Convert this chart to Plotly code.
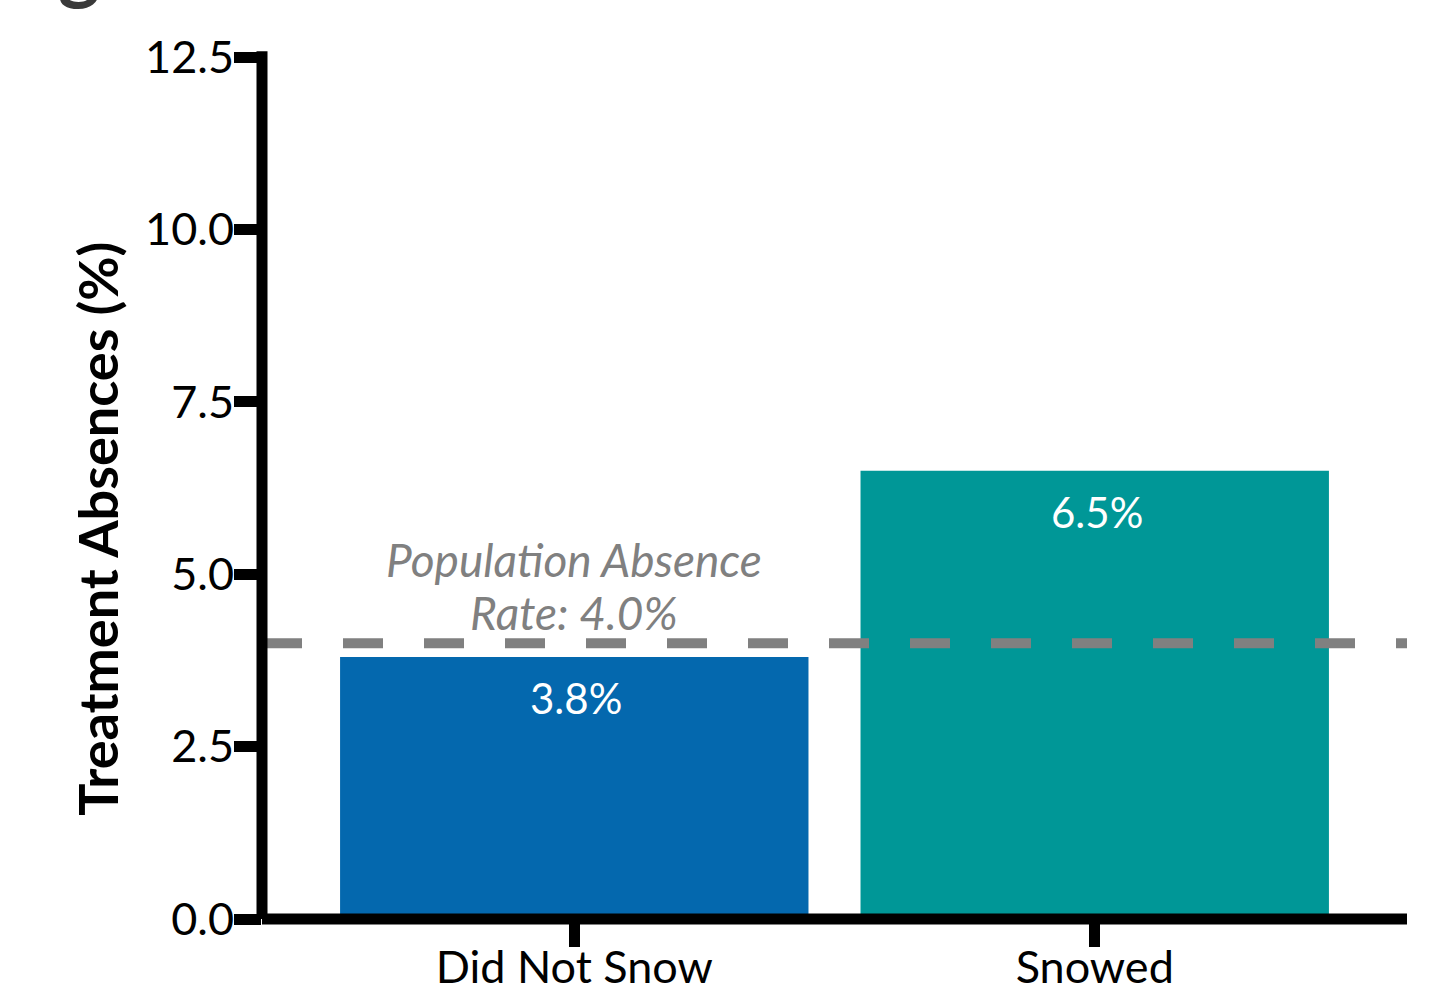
import plotly.graph_objects as go

# Treatment absences by weather condition
categories = ["Did Not Snow", "Snowed"]
absence_pct = [3.8, 6.5]
bar_colors = ["#0468AE", "#009797"]
population_rate = 4.0
y_ticks = [0.0, 2.5, 5.0, 7.5, 10.0, 12.5]
y_tick_labels = [f"{v:.1f}" for v in y_ticks]

FONT = "Lato"
AXIS_W = 11

fig = go.Figure()
fig.add_trace(go.Bar(
    x=categories,
    y=absence_pct,
    marker=dict(color=bar_colors, line=dict(width=0)),
    width=0.9,
    hoverinfo="skip",
))

# value labels just inside the top of each bar
for cat, val in zip(categories, absence_pct):
    fig.add_annotation(
        x=cat, y=val, xref="x", yref="y",
        text=f"{val:.1f}%", showarrow=False,
        yanchor="top", yshift=-14, xshift=2,
        font=dict(family=FONT, size=42, color="white"),
    )

# population reference line and its two-line label
fig.add_shape(
    type="line", xref="paper", yref="y",
    x0=0, x1=1, y0=population_rate, y1=population_rate,
    line=dict(color="#808080", width=10, dash="40px,41px"),
    layer="above",
)
ref_font = dict(family=FONT, size=46, color="#808080", style="italic")
for line_text, shift in [("Population Absence", 54),
                         (f"Rate: {population_rate:.1f}%", 1)]:
    fig.add_annotation(
        x=categories[0], y=population_rate, xref="x", yref="y",
        text=line_text, showarrow=False, yanchor="bottom", yshift=shift,
        font=ref_font,
    )

# heavy axis lines
fig.add_shape(type="line", xref="paper", yref="paper",
              x0=0, x1=0, y0=0, y1=1.0067,
              line=dict(color="black", width=AXIS_W), layer="above")
fig.add_shape(type="line", xref="paper", yref="paper",
              x0=0, x1=1, y0=0, y1=0,
              line=dict(color="black", width=AXIS_W), layer="above")

# y-axis title, set slightly below the plot centre
fig.add_annotation(
    x=-0.144, y=0.453, xref="paper", yref="paper",
    text="Treatment Absences (%)", textangle=-90, showarrow=False,
    xanchor="center", yanchor="middle",
    font=dict(family=FONT, size=54, color="black", weight="bold"),
)

# panel letter at the top edge
fig.add_annotation(
    x=-0.16, y=1.0, xref="paper", yref="paper",
    text="g", showarrow=False, xanchor="center", yanchor="bottom",
    yshift=44,
    font=dict(family=FONT, size=80, color="#3a3a3a", weight="bold"),
)

fig.update_layout(
    width=1452, height=994,
    margin=dict(l=262, r=45, t=57, b=75, autoexpand=False),
    paper_bgcolor="white", plot_bgcolor="white",
    showlegend=False,
    xaxis=dict(
        type="category", range=[-0.6, 1.6], automargin=False,
        showline=False, showgrid=False, zeroline=False,
        ticks="outside", ticklen=27, tickwidth=AXIS_W, tickcolor="black",
        ticklabelstandoff=-18,
        tickfont=dict(family=FONT, size=45, color="black"),
    ),
    yaxis=dict(
        range=[0, 12.5], automargin=False,
        tickvals=y_ticks, ticktext=y_tick_labels,
        showline=False, showgrid=False, zeroline=False,
        ticks="outside", ticklen=27, tickwidth=AXIS_W, tickcolor="black",
        ticklabelstandoff=-9,
        tickfont=dict(family=FONT, size=45, color="black"),
    ),
)

fig.write_html("out.html")
